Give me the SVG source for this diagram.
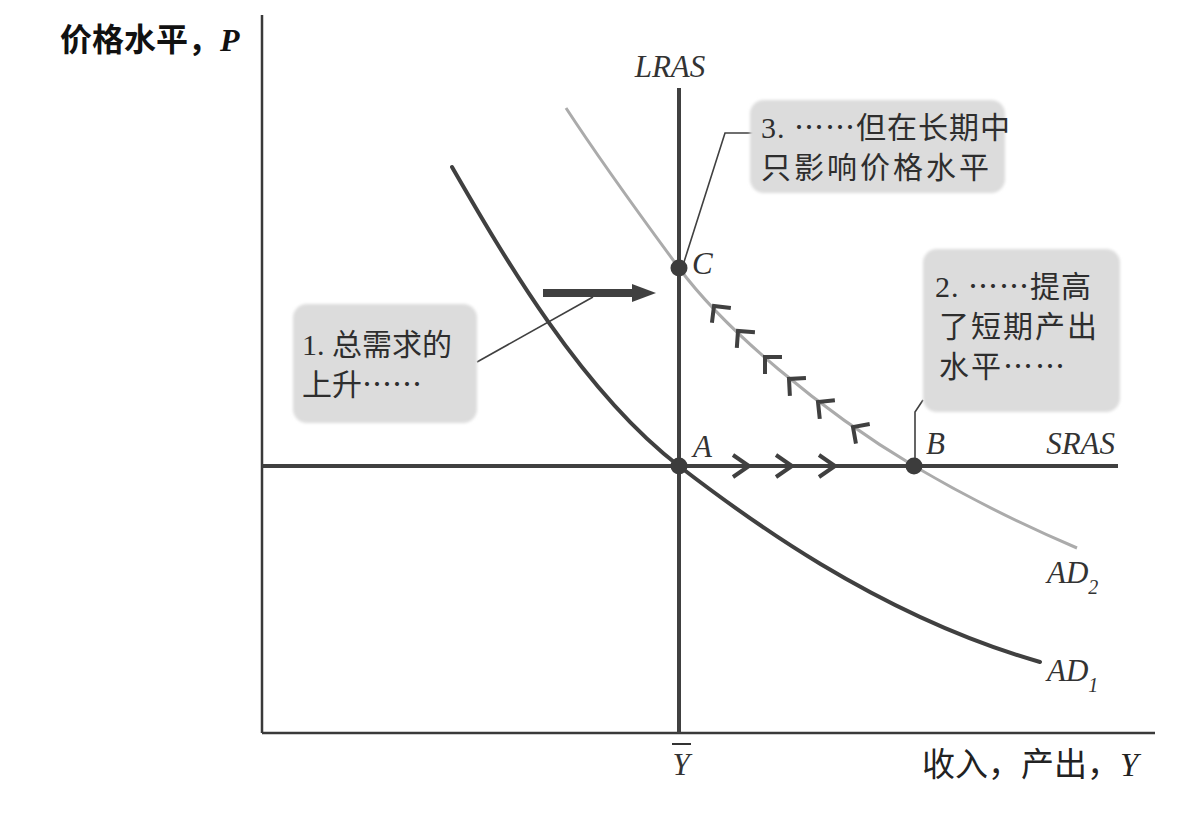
<svg xmlns="http://www.w3.org/2000/svg" width="1190" height="813" viewBox="0 0 1190 813">
<style>
.ax{stroke:#3a3a3a;stroke-width:2.5;fill:none}
.ln{stroke:#404040;stroke-width:4;fill:none}
.ad1{stroke:#404040;stroke-width:4;fill:none;stroke-linecap:round}
.ad2{stroke:#ababab;stroke-width:3;fill:none}
.lead{stroke:#404040;stroke-width:1.6;fill:none}
.chev{stroke:#404040;stroke-width:4;fill:none;stroke-linejoin:miter}
.dot{fill:#3c3c3c}
.box{fill:#dcdcdc;filter:url(#soft)}
.lbl{font-family:"Liberation Serif",serif;font-style:italic;fill:#333;font-size:31px}
.cjk{font-family:"Noto Sans CJK SC",sans-serif;fill:#2e2e2e;font-size:30px}
.num{font-family:"Liberation Serif",serif}
.axt{font-family:"Noto Sans CJK SC",sans-serif;fill:#222;font-size:33px}
.axtop{font-family:"Noto Sans CJK SC",sans-serif;fill:#111;font-size:32px;font-weight:bold}
</style>
<defs>
<filter id="soft" x="-5%" y="-5%" width="110%" height="110%"><feGaussianBlur stdDeviation="1.5"/></filter>
</defs>
<rect width="1190" height="813" fill="#fff"/>

<g id="axes">
<line class="ax" x1="262" y1="15" x2="262" y2="733"/>
<line class="ax" x1="262" y1="733" x2="1155" y2="733"/>
<text class="axtop" x="60" y="51">价格水平，<tspan class="num" font-style="italic" font-weight="bold">P</tspan></text>
<text class="axt" x="922" y="776">收入，产出，<tspan class="num" font-style="italic">Y</tspan></text>
<text class="lbl" x="681" y="775" text-anchor="middle" font-size="32">Y</text>
<line x1="672" y1="744" x2="691" y2="744" stroke="#333" stroke-width="2"/>
</g>

<g id="connectors">
<path class="lead" d="M753,133 L725,133 L684,262"/>
<path class="lead" d="M915,458 L915,412 L923,400"/>
<path class="lead" d="M477,362 L593,297"/>
</g>

<g id="lras">
<line class="ln" x1="679" y1="88" x2="679" y2="733"/>
<text class="lbl" x="670" y="77" text-anchor="middle">LRAS</text>
</g>
<g id="sras">
<line class="ln" x1="262" y1="466" x2="1118" y2="466"/>
<text class="lbl" x="1115" y="454" text-anchor="end">SRAS</text>
<path class="chev" d="M733,455 L749,466 L733,477"/>
<path class="chev" d="M776,455 L792,466 L776,477"/>
<path class="chev" d="M819,455 L835,466 L819,477"/>
</g>

<g id="ad1">
<path class="ad1" d="M452,167 C500,250 580,390 679,466 C740,513 875,615 1040,662"/>
<text class="lbl" x="1047" y="681">AD<tspan font-size="20" dy="11">1</tspan></text>
</g>
<g id="ad2">
<path class="ad2" d="M566,108 C600,160 645,222 679,268 C725,330 820,410 914,466 C975,502 1030,528 1077,548"/>
<text class="lbl" x="1047" y="583">AD<tspan font-size="20" dy="11">2</tspan></text>
<g class="chev">
<path d="M-12,-12 L0,0 L-12,12" transform="translate(714,306) rotate(232)"/>
<path d="M-12,-12 L0,0 L-12,12" transform="translate(738,331) rotate(229)"/>
<path d="M-12,-12 L0,0 L-12,12" transform="translate(765,357) rotate(225)"/>
<path d="M-12,-12 L0,0 L-12,12" transform="translate(789,379) rotate(222)"/>
<path d="M-12,-12 L0,0 L-12,12" transform="translate(818,402) rotate(219)"/>
<path d="M-12,-12 L0,0 L-12,12" transform="translate(853,427) rotate(215)"/>
</g>
</g>

<g id="shift-arrow">
<rect x="543" y="289" width="92" height="8" fill="#404040"/>
<polygon points="632,284 656,293 632,302" fill="#404040"/>
</g>

<g id="pointA">
<circle class="dot" cx="679" cy="466" r="8.5"/>
<text class="lbl" x="693" y="457">A</text>
</g>
<g id="pointB">
<circle class="dot" cx="914" cy="466" r="8.5"/>
<text class="lbl" x="926" y="454">B</text>
</g>
<g id="pointC">
<circle class="dot" cx="679" cy="268" r="8.5"/>
<text class="lbl" x="692" y="274">C</text>
</g>

<g id="box1">
<rect class="box" x="293" y="304" width="184" height="119" rx="14"/>
<text class="cjk" x="302" y="355" font-size="32"><tspan class="num">1. </tspan>总需求的</text>
<text class="cjk" x="302" y="395" font-size="32">上升……</text>
</g>
<g id="box2">
<rect class="box" x="923" y="249" width="197" height="163" rx="14"/>
<text class="cjk" x="935" y="297" letter-spacing="1"><tspan class="num">2. </tspan>……提高</text>
<text class="cjk" x="939" y="337" letter-spacing="2">了短期产出</text>
<text class="cjk" x="939" y="377" letter-spacing="2">水平……</text>
</g>
<g id="box3">
<rect class="box" x="750" y="100" width="255" height="93" rx="14"/>
<text class="cjk" x="761" y="138" letter-spacing="1"><tspan class="num">3. </tspan>……但在长期中</text>
<text class="cjk" x="761" y="178" letter-spacing="3">只影响价格水平</text>
</g>
</svg>
